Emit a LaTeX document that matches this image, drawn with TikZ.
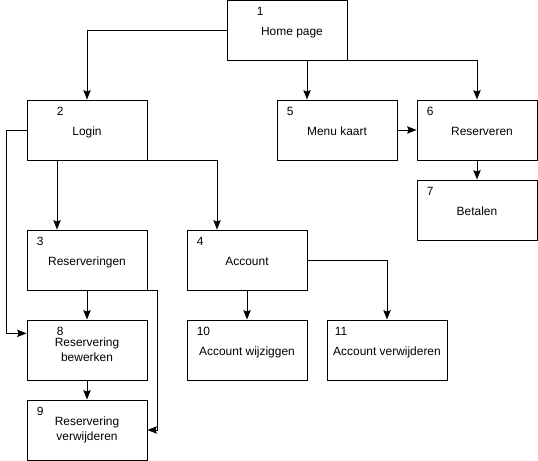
\documentclass[tikz,border=0pt]{standalone}
\usepackage{fontspec}
\setmainfont{Liberation Sans}
\usetikzlibrary{arrows.meta}
\tikzset{
	page/.style={draw,line width=0.8pt,rectangle,minimum width=3.6cm,minimum height=1.8cm,inner sep=0pt,align=center,font=\fontsize{10.2}{12.5}\selectfont},
	onepage/.style={page,text height=12.3pt,text depth=2.3pt},
	num/.style={anchor=base west,inner sep=0pt,xshift=0.3cm,yshift=-0.48cm,font=\fontsize{10.2}{12}\selectfont},
	numw/.style={num,xshift=0.6cm},
	link/.style={line width=0.8pt,-{Stealth[length=2.8mm,width=2.2mm,inset=0.4mm]}}
}
\begin{document}
\begin{tikzpicture}[x=0.03cm,y=-0.03cm]
		\useasboundingbox (0,0) rectangle (538,461);
		% pages
		\node[onepage,label={[numw]north west:1}] (home) at (287,30) {\hspace*{0.3cm}Home page};
		\node[onepage,label={[numw]north west:2}] (login) at (87,130) {Login};
		\node[onepage,label={[num]north west:5}] (menu) at (337,130) {Menu kaart};
		\node[onepage,label={[num]north west:6}] (reserveren) at (477,130) {\hspace*{0.3cm}Reserveren};
		\node[onepage,label={[num]north west:7}] (betalen) at (477,210) {Betalen};
		\node[onepage,label={[num]north west:3}] (reserveringen) at (87,260) {Reserveringen};
		\node[onepage,label={[num]north west:4}] (account) at (247,260) {Account};
		\node[page,label={[numw]north west:8}] (bewerken) at (87,350) {Reservering\\bewerken};
		\node[page,label={[num]north west:9}] (verwijderen) at (87,430) {Reservering\\verwijderen};
		\node[onepage,label={[num]north west:10}] (wijzigen) at (247,350) {Account wijziggen};
		\node[onepage,label={[num,xshift=-0.06cm]north west:11}] (accverw) at (387,350) {Account verwijderen};
		% links
		\draw[link] (home.west) -| (login.north);
		\draw[link] ([xshift=0.6cm]home.south) -- ([xshift=0.6cm]home.south |- menu.north);
		\draw[link] (home.south east) -| (reserveren.north);
		\draw[link] (menu) -- (reserveren);
		\draw[link] (reserveren) -- (betalen);
		\draw[link] ([xshift=-0.9cm]login.south) -- ([xshift=-0.9cm]login.south |- reserveringen.north);
		\draw[link] (login.south east) -| ([xshift=-0.9cm]account.north);
		\draw[link] (login.west) -- ++(-20,0) |- ([yshift=0.5cm]bewerken.west);
		\draw[link] (reserveringen) -- (bewerken);
		\draw[link] (reserveringen.south east) -- ++(10,0) |- (verwijderen.east);
		\draw[link] (bewerken) -- (verwijderen);
		\draw[link] (account) -- (wijzigen);
		\draw[link] (account.east) -| (accverw.north);
\end{tikzpicture}
\end{document}
